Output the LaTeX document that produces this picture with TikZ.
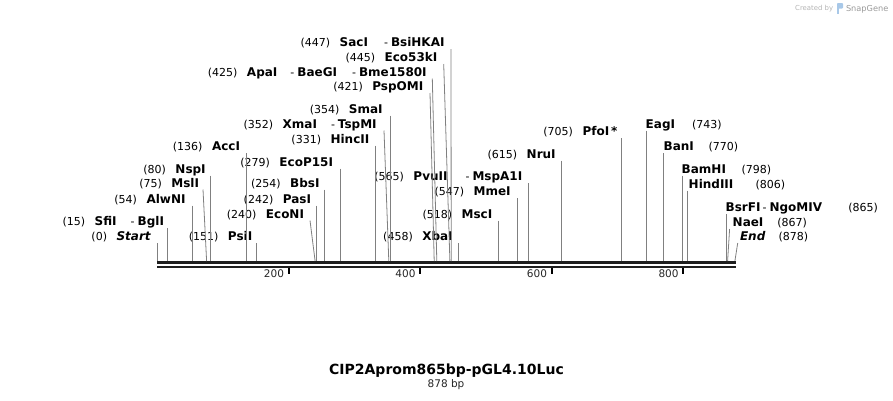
\documentclass[tikz,border=0pt]{standalone}
\usepackage{fontspec}
\setmainfont{DejaVu Sans}
\definecolor{sitegray}{HTML}{808080}
\definecolor{barblack}{HTML}{1E1E1E}
\definecolor{wmgray}{HTML}{B4B4B4}
\definecolor{logoblue}{HTML}{A8C8E8}
\newcommand\rsgap{\hspace{9.5pt}}
\newcommand\rsdash[1]{\hspace{#1}{\fontsize{11}{13}\mdseries\selectfont -}\hspace{3pt}}
\newcommand\rsn[1]{{\fontsize{12}{14}\bfseries\selectfont #1}}
\tikzset{
  site/.style={draw=sitegray, line width=0.8pt},
  lab/.style={inner sep=0pt, outer sep=0pt, font=\fontsize{11}{13}\selectfont, text=black},
  llab/.style={lab, anchor=base east},
  rlab/.style={lab, anchor=base west},
  rnum/.style={lab, anchor=base west},
  tick/.style={draw=black, line width=2pt},
  ticklab/.style={inner sep=0pt, outer sep=0pt, anchor=base east, font=\fontsize{10.5}{12}\selectfont, text=black!85}
}
\begin{document}
\begin{tikzpicture}[x=1pt,y=-1pt]
\useasboundingbox (0,0) rectangle (893,400);

% watermark
\node[inner sep=0pt, anchor=base west, font=\fontsize{6.9}{8}\selectfont, text=wmgray] (wm1) at (795,10.5) {Created by};
\fill[logoblue, rounded corners=0.8pt] (837,3) rectangle (843,8.5);
\fill[logoblue] (837,7.5) rectangle (839.4,13.5);
\node[inner sep=0pt, anchor=base west, font=\fontsize{8.2}{10}\selectfont, text=wmgray!85!black] (wm2) at (845.8,11.5) {SnapGene};

% backbone
\fill[barblack] (157.3,261) rectangle (735.7,263.7);
\fill[barblack] (157.3,265.7) rectangle (735.7,267.9);

% ruler ticks
\coordinate (k200a) at (288.8,267.7); \coordinate (k200b) at (288.8,274.3);
\coordinate (k400a) at (420.3,267.7); \coordinate (k400b) at (420.3,274.3);
\coordinate (k600a) at (551.9,267.7); \coordinate (k600b) at (551.9,274.3);
\coordinate (k800a) at (683.4,267.7); \coordinate (k800b) at (683.4,274.3);
\draw[tick] (k200a) -- (k200b);
\draw[tick] (k400a) -- (k400b);
\draw[tick] (k600a) -- (k600b);
\draw[tick] (k800a) -- (k800b);
\node[ticklab] (n200) at (284,277.7) {200};
\node[ticklab] (n400) at (415.5,277.7) {400};
\node[ticklab] (n600) at (547,277.7) {600};
\node[ticklab] (n800) at (678.6,277.7) {800};

% ---- left-hand labels ----
\node[llab] (l-start) at (150.7,240.7) {(0)\rsgap\rsn{\itshape Start}};
\node[llab] (l-sfi)   at (164,225.7) {(15)\rsgap\rsn{SfiI}\rsdash{14pt}\rsn{BglI}};
\node[llab] (l-alw)   at (185.5,203.3) {(54)\rsgap\rsn{AlwNI}};
\node[llab] (l-msl)   at (199,187.3) {(75)\rsgap\rsn{MslI}};
\node[llab] (l-nsp)   at (205.7,173.3) {(80)\rsgap\rsn{NspI}};
\node[llab] (l-acc)   at (240,150.7) {(136)\rsgap\rsn{AccI}};
\node[llab] (l-psi)   at (252.3,240.7) {(151)\rsgap\rsn{PsiI}};
\node[llab] (l-econ)  at (304,218) {(240)\rsgap\rsn{EcoNI}};
\node[llab] (l-pas)   at (311,203.3) {(242)\rsgap\rsn{PasI}};
\node[llab] (l-bbs)   at (319.5,187.3) {(254)\rsgap\rsn{BbsI}};
\node[llab] (l-ecop)  at (333,166.3) {(279)\rsgap\rsn{EcoP15I}};
\node[llab] (l-hinc)  at (369.3,143.3) {(331)\rsgap\rsn{HincII}};
\node[llab] (l-xma)   at (376.7,128.3) {(352)\rsgap\rsn{XmaI}\rsdash{14pt}\rsn{TspMI}};
\node[llab] (l-sma)   at (382.7,113.3) {(354)\rsgap\rsn{SmaI}};
\node[llab] (l-psp)   at (423.3,90.7) {(421)\rsgap\rsn{PspOMI}};
\node[llab] (l-apa)   at (426.7,76.3) {(425)\rsgap\rsn{ApaI}\rsdash{13pt}\rsn{BaeGI}\rsdash{15pt}\rsn{Bme1580I}};
\node[llab] (l-eco53) at (437.3,61.7) {(445)\rsgap\rsn{Eco53kI}};
\node[llab] (l-sac)   at (444.5,46.7) {(447)\rsgap\rsn{SacI}\rsdash{16pt}\rsn{BsiHKAI}};
\node[llab] (l-xba)   at (452.7,240.7) {(458)\rsgap\rsn{XbaI}};
\node[llab] (l-msc)   at (492.3,218) {(518)\rsgap\rsn{MscI}};
\node[llab] (l-mme)   at (510.7,195.7) {(547)\rsgap\rsn{MmeI}};
\node[llab] (l-pvu)   at (522.3,180.7) {(565)\rsgap\rsn{PvuII}\rsdash{18pt}\rsn{MspA1I}};
\node[llab] (l-nru)   at (555.7,158) {(615)\rsgap\rsn{NruI}};
\node[llab] (l-pfo)   at (617.5,135.7) {(705)\rsgap\rsn{PfoI\,*}};

% ---- right-hand labels ----
\node[rlab] (r-eag)  at (645.7,128) {\rsn{EagI}};
\node[rnum] (q-eag)  at (692,128) {(743)};
\node[rlab] (r-ban)  at (663.7,150.7) {\rsn{BanI}};
\node[rnum] (q-ban)  at (708.5,150.7) {(770)};
\node[rlab] (r-bam)  at (681.7,173.3) {\rsn{BamHI}};
\node[rnum] (q-bam)  at (741.5,173.3) {(798)};
\node[rlab] (r-hind) at (688.7,188) {\rsn{HindIII}};
\node[rnum] (q-hind) at (755.5,188) {(806)};
\node[rlab] (r-bsr)  at (725.7,211.7) {\rsn{BsrFI}\rsdash{2pt}\rsn{NgoMIV}};
\node[rnum] (q-bsr)  at (848.3,211.7) {(865)};
\node[rlab] (r-nae)  at (732.7,226.7) {\rsn{NaeI}};
\node[rnum] (q-nae)  at (777.3,226.7) {(867)};
\node[rlab] (r-end)  at (740,240.7) {\rsn{\itshape End}};
\node[rnum] (q-end)  at (778.5,240.7) {(878)};

% ---- connector end points (top at label, bottom at backbone) ----
\coordinate (t-start) at (157.3,243);   \coordinate (b-start) at (157.3,261);
\coordinate (t-sfi)   at (167.2,228);   \coordinate (b-sfi)   at (167.2,261);
\coordinate (t-alw)   at (192.8,205.5); \coordinate (b-alw)   at (192.8,261);
\coordinate (t-msl)   at (203,189.5);   \coordinate (b-msl)   at (206.6,261);
\coordinate (t-nsp)   at (209.9,175.5); \coordinate (b-nsp)   at (209.9,261);
\coordinate (t-acc)   at (246.7,153);   \coordinate (b-acc)   at (246.7,261);
\coordinate (t-psi)   at (256.6,243);   \coordinate (b-psi)   at (256.6,261);
\coordinate (t-econ)  at (310,220.5);   \coordinate (b-econ)  at (315.1,261);
\coordinate (t-pas)   at (316.4,205.5); \coordinate (b-pas)   at (316.4,261);
\coordinate (t-bbs)   at (324.3,189.5); \coordinate (b-bbs)   at (324.3,261);
\coordinate (t-ecop)  at (340.8,168.5); \coordinate (b-ecop)  at (340.8,261);
\coordinate (t-hinc)  at (375,145.5);   \coordinate (b-hinc)  at (375,261);
\coordinate (t-xma)   at (384,130.5);   \coordinate (b-xma)   at (388.8,261);
\coordinate (t-sma)   at (390.1,115.5); \coordinate (b-sma)   at (390.1,261);
\coordinate (t-psp)   at (430,93);      \coordinate (b-psp)   at (434.2,261);
\coordinate (t-apa)   at (432.3,78.5);  \coordinate (b-apa)   at (436.8,261);
\coordinate (t-eco53) at (443.7,64);    \coordinate (b-eco53) at (449.9,261);
\coordinate (t-sac)   at (451,49);      \coordinate (b-sac)   at (451.2,261);
\coordinate (t-xba)   at (458.5,243);   \coordinate (b-xba)   at (458.5,261);
\coordinate (t-msc)   at (497.9,220.5); \coordinate (b-msc)   at (497.9,261);
\coordinate (t-mme)   at (517,198);     \coordinate (b-mme)   at (517,261);
\coordinate (t-pvu)   at (528.8,183);   \coordinate (b-pvu)   at (528.8,261);
\coordinate (t-nru)   at (561.7,160.5); \coordinate (b-nru)   at (561.7,261);
\coordinate (t-pfo)   at (620.9,138);   \coordinate (b-pfo)   at (620.9,261);
\coordinate (t-eag)   at (645.9,130.5); \coordinate (b-eag)   at (645.9,261);
\coordinate (t-ban)   at (663.7,153);   \coordinate (b-ban)   at (663.7,261);
\coordinate (t-bam)   at (682.1,175.5); \coordinate (b-bam)   at (682.1,261);
\coordinate (t-hind)  at (687.6,190.5); \coordinate (b-hind)  at (687.6,261);
\coordinate (t-bsr)   at (726.1,214);   \coordinate (b-bsr)   at (726.1,261);
\coordinate (t-nae)   at (729.6,229);   \coordinate (b-nae)   at (727.6,261);
\coordinate (t-end)   at (737.7,243);   \coordinate (b-end)   at (734.9,261);

\foreach \s in {start,sfi,alw,msl,nsp,acc,psi,econ,pas,bbs,ecop,hinc,xma,sma,psp,apa,eco53,sac,xba,msc,mme,pvu,nru,pfo,eag,ban,bam,hind,bsr,nae,end}
  \draw[site] (t-\s) -- (b-\s);

% ---- title ----
\node[inner sep=0pt, anchor=base, font=\fontsize{14}{16}\selectfont\bfseries] (title) at (446.5,374.5) {CIP2Aprom865bp-pGL4.10Luc};
\node[inner sep=0pt, anchor=base, font=\fontsize{10.5}{12}\selectfont, text=black!85] (size) at (446,387.5) {878 bp};
\end{tikzpicture}
\end{document}
